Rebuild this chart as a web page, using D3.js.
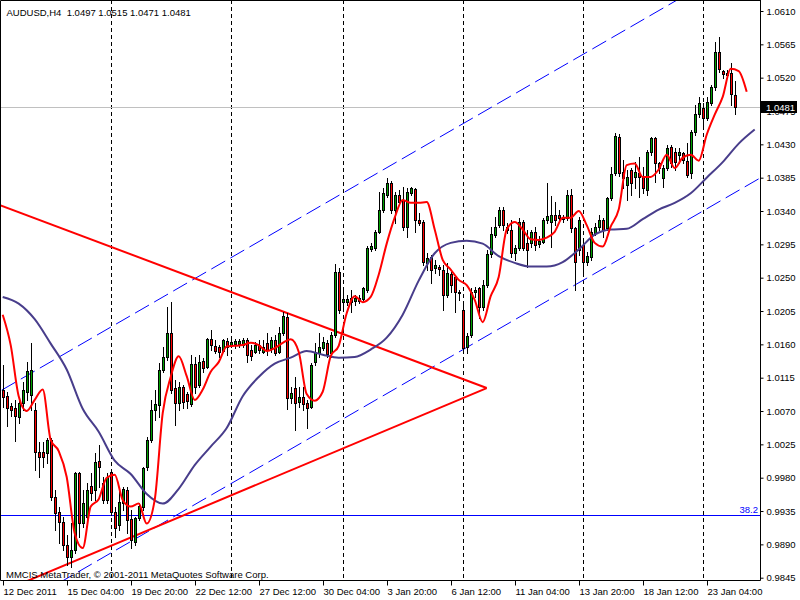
<!DOCTYPE html>
<html><head><meta charset="utf-8">
<script src="https://cdn.jsdelivr.net/npm/d3@7"></script>
<style>body{margin:0;background:#fff}svg{display:block}text{font-family:"Liberation Sans",Arial,sans-serif;font-size:9.5px}</style>
</head><body><svg id="c" width="800" height="600"></svg>
<script>
const symbol = "AUDUSD,H4";
const lastQuote = ["1.0497","1.0515","1.0471","1.0481"];
const copyright = "MMCIS MetaTrader, \u00a9 2001-2011 MetaQuotes Software Corp.";

const opens = [1.0099,1.0090,1.0077,1.0074,1.0062,1.0081,1.0096,1.0092,1.0072,1.0015,1.0015,1.0013,1.0031,0.9954,0.9934,0.9920,0.9889,0.9873,0.9883,0.9986,
0.9919,0.9927,0.9969,0.9964,1.0003,0.9973,0.9950,0.9988,0.9934,0.9916,0.9946,0.9964,0.9924,0.9893,0.9926,0.9941,0.9995,1.0031,1.0072,1.0078,
1.0126,1.0143,1.0175,1.0101,1.0081,1.0103,1.0093,1.0080,1.0134,1.0105,1.0138,1.0130,1.0167,1.0158,1.0157,1.0151,1.0165,1.0159,1.0161,1.0161,
1.0159,1.0166,1.0153,1.0150,1.0159,1.0150,1.0162,1.0155,1.0166,1.0150,1.0175,1.0197,1.0088,1.0101,1.0082,1.0089,1.0081,1.0076,1.0136,1.0148,
1.0155,1.0162,1.0148,1.0173,1.0258,1.0217,1.0217,1.0217,1.0219,1.0219,1.0221,1.0234,1.0289,1.0290,1.0312,1.0342,1.0362,1.0378,1.0342,1.0362,
1.0355,1.0319,1.0364,1.0370,1.0328,1.0325,1.0270,1.0278,1.0263,1.0265,1.0261,1.0227,1.0255,1.0251,1.0231,1.0207,1.0157,1.0173,1.0231,1.0236,
1.0211,1.0240,1.0282,1.0308,1.0321,1.0342,1.0319,1.0315,1.0283,1.0290,1.0325,1.0297,1.0297,1.0312,1.0296,1.0298,1.0328,1.0325,1.0335,1.0335,
1.0332,1.0331,1.0362,1.0317,1.0288,1.0294,1.0271,1.0278,1.0310,1.0319,1.0328,1.0317,1.0358,1.0391,1.0440,1.0393,1.0375,1.0396,1.0386,1.0391,
1.0386,1.0369,1.0420,1.0439,1.0405,1.0385,1.0398,1.0427,1.0420,1.0416,1.0418,1.0408,1.0391,1.0447,1.0471,1.0479,1.0466,1.0486,1.0508,1.0555,
1.0529,1.0526,1.0526,1.0497];
const highs = [1.0132,1.0096,1.0081,1.0085,1.0089,1.0109,1.0136,1.0162,1.0081,1.0028,1.0028,1.0034,1.0034,0.9964,0.9941,0.9927,0.9903,0.9919,0.9988,0.9988,
0.9964,0.9973,0.9986,1.0013,1.0024,0.9981,0.9986,0.9991,0.9941,0.9964,0.9968,0.9968,0.9937,0.9927,0.9946,0.9995,1.0035,1.0085,1.0099,1.0135,
1.0157,1.0211,1.0217,1.0112,1.0109,1.0105,1.0096,1.0146,1.0143,1.0146,1.0142,1.0169,1.0180,1.0166,1.0159,1.0167,1.0169,1.0166,1.0167,1.0167,
1.0169,1.0169,1.0159,1.0163,1.0166,1.0166,1.0175,1.0170,1.0173,1.0184,1.0204,1.0202,1.0103,1.0116,1.0103,1.0103,1.0085,1.0135,1.0162,1.0175,
1.0170,1.0166,1.0177,1.0269,1.0263,1.0234,1.0227,1.0234,1.0227,1.0227,1.0238,1.0293,1.0297,1.0315,1.0366,1.0371,1.0385,1.0381,1.0366,1.0369,
1.0373,1.0371,1.0373,1.0371,1.0337,1.0328,1.0283,1.0281,1.0274,1.0267,1.0267,1.0270,1.0258,1.0254,1.0234,1.0216,1.0175,1.0236,1.0238,1.0238,
1.0247,1.0288,1.0319,1.0332,1.0346,1.0346,1.0324,1.0328,1.0294,1.0331,1.0328,1.0315,1.0315,1.0319,1.0306,1.0331,1.0378,1.0360,1.0352,1.0342,
1.0335,1.0369,1.0370,1.0319,1.0332,1.0298,1.0285,1.0317,1.0324,1.0335,1.0331,1.0359,1.0400,1.0445,1.0444,1.0409,1.0396,1.0398,1.0406,1.0413,
1.0400,1.0423,1.0440,1.0440,1.0406,1.0402,1.0429,1.0429,1.0425,1.0425,1.0420,1.0432,1.0450,1.0483,1.0494,1.0486,1.0494,1.0510,1.0568,1.0575,
1.0530,1.0530,1.0540,1.0515];
const lows = [1.0076,1.0050,1.0063,1.0030,1.0054,1.0072,1.0085,1.0072,0.9991,0.9981,0.9995,1.0000,0.9950,0.9910,0.9892,0.9883,0.9862,0.9860,0.9878,0.9900,
0.9914,0.9919,0.9950,0.9950,0.9968,0.9946,0.9946,0.9930,0.9900,0.9910,0.9937,0.9905,0.9885,0.9889,0.9923,0.9937,0.9991,1.0028,1.0058,1.0062,
1.0123,1.0139,1.0094,1.0051,1.0072,1.0074,1.0074,1.0077,1.0094,1.0103,1.0123,1.0128,1.0153,1.0148,1.0143,1.0150,1.0146,1.0157,1.0155,1.0157,
1.0157,1.0136,1.0139,1.0148,1.0148,1.0148,1.0146,1.0150,1.0146,1.0148,1.0173,1.0073,1.0081,1.0045,1.0076,1.0072,1.0047,1.0074,1.0132,1.0143,
1.0153,1.0143,1.0143,1.0170,1.0202,1.0209,1.0213,1.0204,1.0213,1.0216,1.0220,1.0231,1.0286,1.0288,1.0310,1.0339,1.0359,1.0337,1.0324,1.0348,
1.0315,1.0305,1.0362,1.0312,1.0321,1.0267,1.0261,1.0243,1.0256,1.0254,1.0207,1.0224,1.0231,1.0204,1.0220,1.0150,1.0148,1.0170,1.0224,1.0196,
1.0207,1.0238,1.0278,1.0305,1.0319,1.0315,1.0310,1.0278,1.0274,1.0288,1.0288,1.0265,1.0292,1.0288,1.0292,1.0297,1.0324,1.0292,1.0321,1.0328,
1.0325,1.0328,1.0312,1.0234,1.0281,1.0256,1.0267,1.0274,1.0308,1.0315,1.0305,1.0315,1.0355,1.0389,1.0387,1.0371,1.0355,1.0362,1.0371,1.0359,
1.0364,1.0362,1.0416,1.0379,1.0391,1.0373,1.0396,1.0400,1.0396,1.0405,1.0405,1.0386,1.0385,1.0443,1.0467,1.0456,1.0463,1.0483,1.0504,1.0528,
1.0520,1.0520,1.0483,1.0471];
const closes = [1.0089,1.0074,1.0072,1.0063,1.0081,1.0099,1.0124,1.0126,1.0015,1.0008,1.0008,1.0031,0.9954,0.9932,0.9920,0.9889,0.9873,0.9883,0.9986,0.9919,
0.9946,0.9964,0.9959,1.0001,0.9995,0.9950,0.9981,0.9934,0.9912,0.9947,0.9965,0.9923,0.9896,0.9926,0.9942,0.9993,1.0031,1.0072,1.0080,1.0126,
1.0143,1.0175,1.0099,1.0081,1.0103,1.0082,1.0084,1.0134,1.0103,1.0136,1.0128,1.0167,1.0159,1.0151,1.0150,1.0166,1.0157,1.0163,1.0165,1.0165,
1.0166,1.0146,1.0144,1.0159,1.0153,1.0157,1.0153,1.0166,1.0148,1.0175,1.0198,1.0088,1.0094,1.0081,1.0089,1.0080,1.0074,1.0132,1.0150,1.0157,
1.0163,1.0147,1.0173,1.0258,1.0207,1.0221,1.0221,1.0223,1.0223,1.0223,1.0236,1.0290,1.0293,1.0312,1.0342,1.0364,1.0378,1.0342,1.0362,1.0352,
1.0319,1.0366,1.0371,1.0328,1.0324,1.0271,1.0277,1.0261,1.0267,1.0262,1.0227,1.0256,1.0240,1.0231,1.0229,1.0155,1.0171,1.0231,1.0234,1.0211,
1.0240,1.0282,1.0309,1.0319,1.0342,1.0321,1.0315,1.0283,1.0290,1.0325,1.0290,1.0288,1.0312,1.0294,1.0300,1.0328,1.0333,1.0335,1.0328,1.0331,
1.0329,1.0362,1.0317,1.0271,1.0328,1.0271,1.0279,1.0312,1.0319,1.0328,1.0315,1.0358,1.0390,1.0441,1.0391,1.0385,1.0386,1.0378,1.0393,1.0386,
1.0371,1.0420,1.0439,1.0405,1.0398,1.0398,1.0425,1.0405,1.0406,1.0420,1.0409,1.0389,1.0447,1.0471,1.0486,1.0466,1.0487,1.0508,1.0555,1.0532,
1.0525,1.0524,1.0498,1.0481];

// fast moving average (red), one value every 2 bars starting at bar 0
const fastMAStep = 2;
const fastMA = [1.0200,1.0159,1.0090,1.0070,1.0085,1.0099,1.0031,1.0016,0.9981,0.9905,0.9885,0.9941,0.9951,0.9980,0.9984,0.9950,0.9941,0.9945,0.9918,0.9950,
1.0067,1.0116,1.0144,1.0117,1.0085,1.0099,1.0123,1.0136,1.0157,1.0158,1.0159,1.0162,1.0159,1.0151,1.0155,1.0162,1.0167,1.0150,1.0093,1.0084,
1.0096,1.0144,1.0158,1.0202,1.0225,1.0217,1.0224,1.0254,1.0296,1.0331,1.0355,1.0351,1.0351,1.0352,1.0315,1.0274,1.0261,1.0247,1.0240,1.0220,
1.0190,1.0225,1.0251,1.0315,1.0325,1.0315,1.0302,1.0301,1.0304,1.0312,1.0331,1.0331,1.0340,1.0321,1.0297,1.0292,1.0319,1.0342,1.0402,1.0404,
1.0386,1.0386,1.0396,1.0416,1.0398,1.0412,1.0416,1.0408,1.0443,1.0470,1.0494,1.0532,1.0529,1.0501];
// slow moving average (dark slate blue), one value every 4 bars starting at bar 0
const slowMAStep = 4;
const slowMA = [1.0224,1.0215,1.0194,1.0161,1.0126,1.0073,1.0042,1.0003,0.9985,0.9958,0.9945,0.9965,0.9997,1.0022,1.0047,1.0090,1.0116,1.0134,1.0142,1.0151,
1.0146,1.0142,1.0143,1.0153,1.0169,1.0200,1.0246,1.0283,1.0297,1.0300,1.0296,1.0279,1.0270,1.0265,1.0265,1.0271,1.0288,1.0308,1.0315,1.0316,
1.0329,1.0342,1.0351,1.0364,1.0385,1.0406,1.0431,1.0450];

const priceLabels = ["1.0610","1.0565","1.0520","1.0475","1.0430","1.0385","1.0340","1.0295","1.0250","1.0205","1.0160","1.0115","1.0070","1.0025","0.9980","0.9935","0.9890","0.9845"];
const dateLabels = ["12 Dec 2011","15 Dec 04:00","19 Dec 20:00","22 Dec 12:00","27 Dec 12:00","30 Dec 04:00","3 Jan 20:00","6 Jan 12:00","11 Jan 04:00","13 Jan 20:00","18 Jan 12:00","23 Jan 04:00"];
const dateLabelBars = [0,16,32,48,64,80,96,112,128,144,160,176];
const separatorBars = [27,57,85,115,145,175];

const currentPrice = 1.0481;
const fibPrice = 0.9929, fibLabel = "38.2";
// trend lines: [bar, price] anchors
const upperTrend = [[-0.7,1.0348],[121,1.0101]];
const lowerTrend = [[5,0.9838],[121,1.0101]];
// equidistant channel: base line anchors and offset of parallel line
const channelBase = [[0,1.0099],[160,1.0598]];
const channelOffset = -0.0305;

const plotR = 760, plotB = 580;
const svg = d3.select("#c");
svg.append("rect").attr("width",800).attr("height",600).attr("fill","#fff");

const x = d3.scaleLinear().domain([0,189]).range([2.7,758.7]);
const y = d3.scaleLinear().domain([0.9845,1.0610]).range([577.7,11]);
const cx = i => Math.round(x(i)) + 0.5;
const cy = v => Math.round(y(v)) + 0.5;

svg.append("defs").append("clipPath").attr("id","clip")
  .append("rect").attr("x",0).attr("y",0).attr("width",plotR).attr("height",plotB);
const g = svg.append("g").attr("clip-path","url(#clip)");

// period separators
g.selectAll("line.sep").data(separatorBars).join("line").attr("class","sep")
  .attr("x1",d=>cx(d)).attr("x2",d=>cx(d)).attr("y1",0).attr("y2",plotB)
  .attr("stroke","#000").attr("stroke-width",1).attr("stroke-dasharray","4,3");

// current price line
g.append("line").attr("x1",0).attr("x2",plotR).attr("y1",cy(currentPrice)).attr("y2",cy(currentPrice))
  .attr("stroke","#c0c0c0").attr("stroke-width",1);

// fibo level
g.append("line").attr("x1",0).attr("x2",plotR).attr("y1",cy(fibPrice)).attr("y2",cy(fibPrice))
  .attr("stroke","#0000ff").attr("stroke-width",1);

// channel
const slope = (channelBase[1][1]-channelBase[0][1])/(channelBase[1][0]-channelBase[0][0]);
const chanAt = (b,off) => channelBase[0][1] + slope*(b-channelBase[0][0]) + off;
const lineGen = d3.line().x(d=>x(d[0])).y(d=>y(d[1]));
[0, channelOffset].forEach(off=>{
  g.append("path").attr("d", lineGen([[-5,chanAt(-5,off)],[200,chanAt(200,off)]]))
    .attr("fill","none").attr("stroke","#0000ff").attr("stroke-width",1).attr("stroke-dasharray","16,6");
});

// trend lines (triangle)
[upperTrend, lowerTrend].forEach(t=>{
  g.append("path").attr("d", lineGen(t)).attr("fill","none").attr("stroke","#ff0000").attr("stroke-width",2);
});

// candles
const idx = d3.range(opens.length);
const cg = g.append("g");
cg.selectAll("line.wick").data(idx).join("line").attr("class","wick")
  .attr("x1",i=>cx(i)).attr("x2",i=>cx(i)).attr("y1",i=>Math.round(y(highs[i]))).attr("y2",i=>Math.round(y(lows[i]))+1)
  .attr("stroke","#000").attr("stroke-width",1);
cg.selectAll("rect.body").data(idx).join("rect").attr("class","body")
  .attr("x",i=>cx(i)-1).attr("width",2)
  .attr("y",i=>Math.round(y(Math.max(opens[i],closes[i])))+0.5)
  .attr("height",i=>Math.max(1, Math.round(y(Math.min(opens[i],closes[i]))) - Math.round(y(Math.max(opens[i],closes[i])))))
  .attr("fill",i=>closes[i]>=opens[i] ? "#00a000" : "#ff0000")
  .attr("stroke","#000").attr("stroke-width",1);

// moving averages
const maLine = d3.line().x(d=>x(d[0])).y(d=>y(d[1])).curve(d3.curveMonotoneX);
g.append("path").attr("d", maLine(slowMA.map((v,k)=>[k*slowMAStep, v])))
  .attr("fill","none").attr("stroke","#483d8b").attr("stroke-width",2);
g.append("path").attr("d", maLine(fastMA.map((v,k)=>[k*fastMAStep, v])))
  .attr("fill","none").attr("stroke","#ff0000").attr("stroke-width",2);

// fibo label
svg.append("text").attr("x",758).attr("y",cy(fibPrice)-3).attr("text-anchor","end")
  .attr("fill","#0000ff").text(fibLabel);

// frame
svg.append("path").attr("d",`M${plotR+0.5},0V${plotB+0.5}H0.5V0.5H${plotR+0.5}`)
  .attr("fill","none").attr("stroke","#000").attr("stroke-width",1);

// right price axis
const yAxis = d3.axisRight(y).tickValues(priceLabels.map(Number)).tickFormat((d,i)=>priceLabels[i])
  .tickSize(3).tickPadding(3);
const ya = svg.append("g").attr("transform",`translate(${plotR+0.5},0)`).call(yAxis);
ya.select(".domain").remove();
ya.selectAll("text").attr("font-size","9.5px").attr("font-family","Liberation Sans, Arial, sans-serif").attr("fill","#000");
ya.selectAll("line").attr("stroke","#000");

// bottom time axis
const xAxis = d3.axisBottom(x).tickValues(dateLabelBars).tickFormat((d,i)=>dateLabels[i]).tickSize(5).tickPadding(3);
const xa = svg.append("g").attr("transform",`translate(0.5,${plotB+0.5})`).call(xAxis);
xa.select(".domain").remove();
xa.selectAll(".tick").attr("transform",d=>`translate(${Math.round(x(d))},0)`);
xa.selectAll("text").attr("text-anchor","start").attr("x",0)
  .attr("font-size","9.5px").attr("font-family","Liberation Sans, Arial, sans-serif").attr("fill","#000");
xa.selectAll("line").attr("stroke","#000");

// current price box
svg.append("rect").attr("x",plotR+1).attr("y",Math.round(y(currentPrice))-6).attr("width",36).attr("height",12).attr("fill","#000");
svg.append("text").attr("x",plotR+6).attr("y",Math.round(y(currentPrice))+4).attr("fill","#fff").text(lastQuote[3]);

// title and copyright
svg.append("text").attr("x",6.5).attr("y",15.5).attr("fill","#000").attr("xml:space","preserve")
  .text(symbol + "  " + lastQuote.join(" "));
svg.append("text").attr("x",6).attr("y",577.5).attr("fill","#000").text(copyright);
</script></body></html>
